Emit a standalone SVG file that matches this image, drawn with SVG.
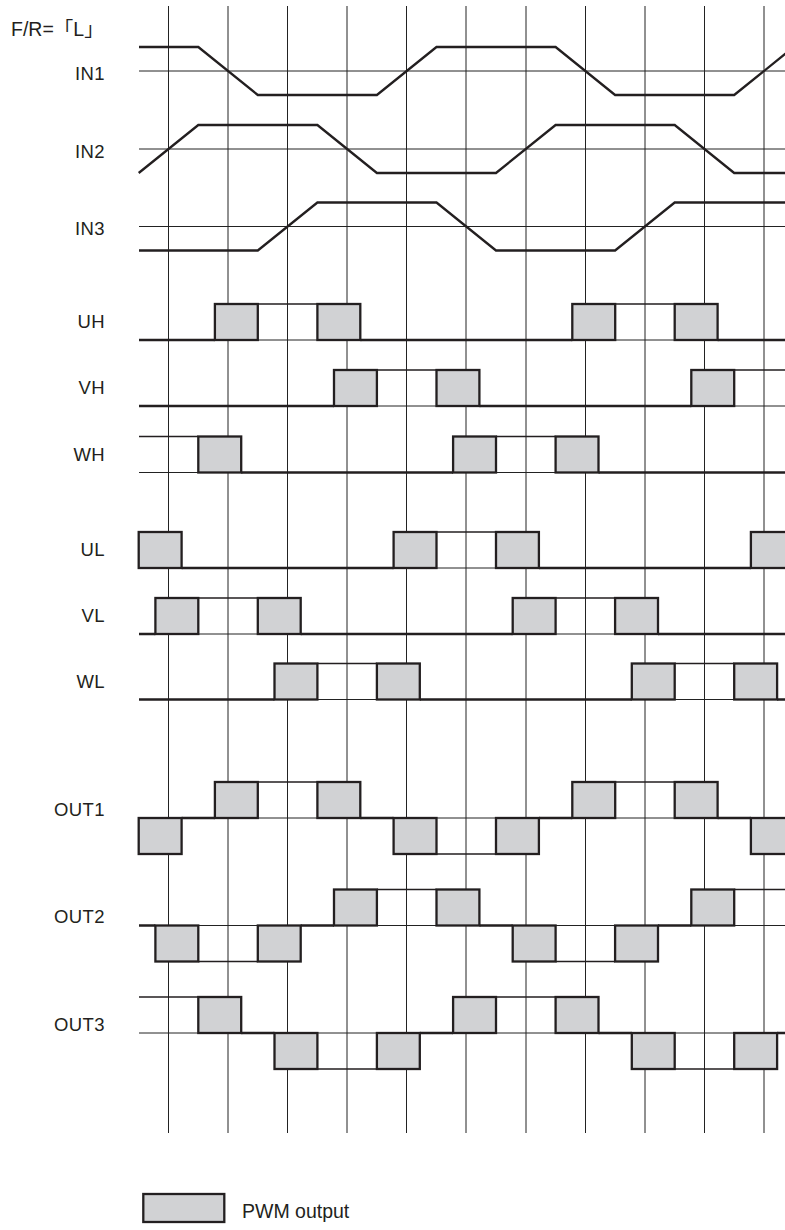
<svg xmlns="http://www.w3.org/2000/svg" width="785" height="1230" viewBox="0 0 785 1230">
<style>
.grid{stroke:#222;stroke-width:1;fill:none}
.ref{stroke:#222;stroke-width:1;fill:none}
.wave{stroke:#231f20;stroke-width:2.3;fill:none}
.thin{stroke:#231f20;stroke-width:1.5;fill:none}
.pwm{fill:#d1d2d4;stroke:#231f20;stroke-width:2.3}
.lbl{font-family:"Liberation Sans",Arial,sans-serif;font-size:18.5px;letter-spacing:0.4px;fill:#231f20;text-anchor:end}
</style>
<defs>
<rect id="b" width="42.9" height="36" class="pwm"/>
</defs>
<rect width="785" height="1230" fill="#ffffff"/>
<g id="connectors">
<g id="grid" class="grid">
<path d="M168.5,6V1133M228,6V1133M287.5,6V1133M347,6V1133M406.5,6V1133M466,6V1133M526,6V1133M585.5,6V1133M645,6V1133M704.5,6V1133M764,6V1133"/>
</g>
<g id="refs" class="ref">
<path d="M139,71H785M139,149H785M139,226.5H785M139,340H785M139,406H785M139,472.5H785M139,568H785M139,634H785M139,699.5H785M139,818H785M139,925.5H785M139,1033H785"/>
</g>
</g>
<text x="11" y="36" style="font-family:'Liberation Sans','Noto Sans CJK JP',sans-serif;font-size:19.5px;fill:#231f20">F/R=「L」</text>
<g id="IN1"><text class="lbl" x="105" y="80">IN1</text>
<path class="wave" d="M139,47L198.3,47L257.8,95L376.9,95L436.5,47L555.6,47L615.1,95L734.2,95L793.8,47"/></g>
<g id="IN2"><text class="lbl" x="105" y="158">IN2</text>
<path class="wave" d="M138.7,173L198.3,125L317.4,125L376.9,173L496,173L555.6,125L674.7,125L734.2,173L790,173"/></g>
<g id="IN3"><text class="lbl" x="105" y="235">IN3</text>
<path class="wave" d="M139,250.5L257.8,250.5L317.4,202.5L436.5,202.5L496,250.5L615.1,250.5L674.7,202.5L790,202.5"/></g>

<g id="UH"><text class="lbl" x="105" y="328">UH</text>
<path class="wave" d="M139,340H214.9M360.3,340H572.3M717.6,340H785"/>
<path class="thin" d="M257.8,304H317.4M615.1,304H674.7"/>
<use href="#b" x="214.9" y="304"/><use href="#b" x="317.4" y="304"/><use href="#b" x="572.3" y="304"/><use href="#b" x="674.7" y="304"/></g>

<g id="VH"><text class="lbl" x="105" y="394">VH</text>
<path class="wave" d="M139,406H334M479.4,406H691.3"/>
<path class="thin" d="M376.9,370H436.5M734.2,370H785"/>
<use href="#b" x="334" y="370"/><use href="#b" x="436.5" y="370"/><use href="#b" x="691.3" y="370"/></g>

<g id="WH"><text class="lbl" x="105" y="461">WH</text>
<path class="wave" d="M241.2,472.5H453.1M598.5,472.5H785"/>
<path class="thin" d="M139,436.5H198.3M496,436.5H555.6"/>
<use href="#b" x="198.3" y="436.5"/><use href="#b" x="453.1" y="436.5"/><use href="#b" x="555.6" y="436.5"/></g>

<g id="UL"><text class="lbl" x="105" y="556">UL</text>
<path class="wave" d="M181.6,568H393.6M538.9,568H750.9"/>
<path class="thin" d="M436.5,532H496"/>
<use href="#b" x="138.7" y="532"/><use href="#b" x="393.6" y="532"/><use href="#b" x="496" y="532"/><use href="#b" x="750.9" y="532"/></g>

<g id="VL"><text class="lbl" x="105" y="622">VL</text>
<path class="wave" d="M139,634H155.4M300.7,634H512.7M658,634H785"/>
<path class="thin" d="M198.3,598H257.8M555.6,598H615.1"/>
<use href="#b" x="155.4" y="598"/><use href="#b" x="257.8" y="598"/><use href="#b" x="512.7" y="598"/><use href="#b" x="615.1" y="598"/></g>

<g id="WL"><text class="lbl" x="105" y="688">WL</text>
<path class="wave" d="M139,699.5H274.5M419.8,699.5H631.8M777.1,699.5H785"/>
<path class="thin" d="M317.4,663.5H376.9M674.7,663.5H734.2"/>
<use href="#b" x="274.5" y="663.5"/><use href="#b" x="376.9" y="663.5"/><use href="#b" x="631.8" y="663.5"/><use href="#b" x="734.2" y="663.5"/></g>

<g id="OUT1"><text class="lbl" x="105" y="816">OUT1</text>
<path class="wave" d="M181.6,818H214.9M360.3,818H393.6M538.9,818H572.3M717.6,818H750.9"/>
<path class="thin" d="M257.8,782H317.4M615.1,782H674.7M436.5,854H496"/>
<use href="#b" x="214.9" y="782"/><use href="#b" x="317.4" y="782"/><use href="#b" x="572.3" y="782"/><use href="#b" x="674.7" y="782"/>
<use href="#b" x="138.7" y="818"/><use href="#b" x="393.6" y="818"/><use href="#b" x="496" y="818"/><use href="#b" x="750.9" y="818"/></g>

<g id="OUT2"><text class="lbl" x="105" y="923">OUT2</text>
<path class="wave" d="M139,925.5H155.4M300.7,925.5H334M479.4,925.5H512.7M658,925.5H691.3"/>
<path class="thin" d="M376.9,889.5H436.5M734.2,889.5H785M198.3,961.5H257.8M555.6,961.5H615.1"/>
<use href="#b" x="334" y="889.5"/><use href="#b" x="436.5" y="889.5"/><use href="#b" x="691.3" y="889.5"/>
<use href="#b" x="155.4" y="925.5"/><use href="#b" x="257.8" y="925.5"/><use href="#b" x="512.7" y="925.5"/><use href="#b" x="615.1" y="925.5"/></g>

<g id="OUT3"><text class="lbl" x="105" y="1031">OUT3</text>
<path class="wave" d="M241.2,1033H274.5M419.8,1033H453.1M598.5,1033H631.8M777.1,1033H785"/>
<path class="thin" d="M139,997H198.3M496,997H555.6M317.4,1069H376.9M674.7,1069H734.2"/>
<use href="#b" x="198.3" y="997"/><use href="#b" x="453.1" y="997"/><use href="#b" x="555.6" y="997"/>
<use href="#b" x="274.5" y="1033"/><use href="#b" x="376.9" y="1033"/><use href="#b" x="631.8" y="1033"/><use href="#b" x="734.2" y="1033"/></g>

<g id="legend">
<rect class="pwm" x="143.3" y="1194" width="81" height="28"/>
<text x="242" y="1218" style="font-family:'Liberation Sans',Arial,sans-serif;font-size:19.5px;fill:#231f20">PWM output</text>
</g>
</svg>
